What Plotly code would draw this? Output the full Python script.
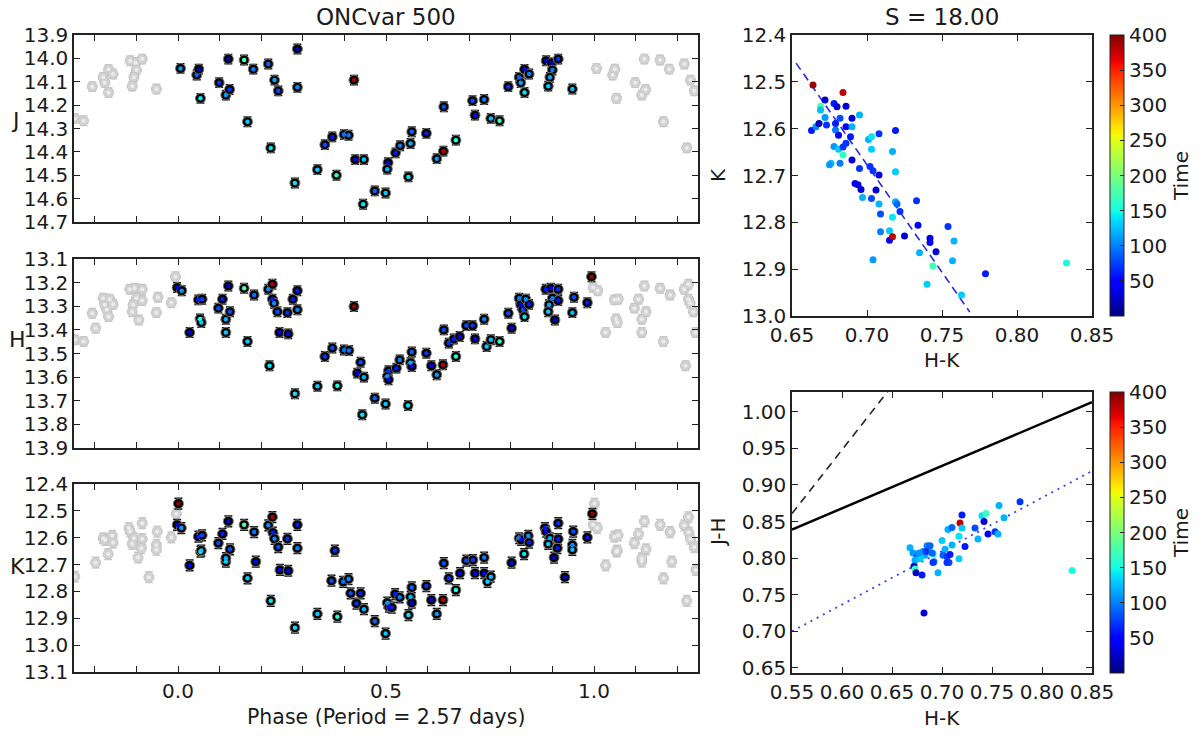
import numpy as np
import plotly.graph_objects as go

# ---------------- data ----------------
# Light curves: phase, magnitude, observation time (colour)
phase_J = [0.006, 0.045, 0.050, 0.054, 0.099, 0.115, 0.124, 0.121, 0.159, 0.181, 0.167, 0.217, 0.223, 0.232, 0.241,
           0.287, 0.287, 0.281, 0.335, 0.353, 0.371, 0.381, 0.399, 0.410, 0.423, 0.426, 0.447, 0.445, 0.473, 0.499,
           0.505, 0.503, 0.523, 0.534, 0.554, 0.559, 0.562, 0.597, 0.622, 0.638, 0.668, 0.639, 0.708, 0.714, 0.736,
           0.752, 0.773, 0.794, 0.820, 0.824, 0.833, 0.844, 0.833, 0.885, 0.898, 0.900, 0.894, 0.890, 0.914, 0.948]
mag_J = [14.043, 14.071, 14.046, 14.171, 14.104, 14.157, 14.133, 14.003, 14.007, 14.046, 14.271, 14.024, 14.383, 14.093, 14.139,
         13.960, 14.124, 14.533, 14.476, 14.369, 14.336, 14.500, 14.326, 14.329, 14.093, 14.433, 14.433, 14.624, 14.567, 14.576,
         14.446, 14.474, 14.404, 14.374, 14.507, 14.364, 14.314, 14.321, 14.429, 14.397, 14.350, 14.207, 14.181, 14.243, 14.176,
         14.257, 14.267, 14.121, 14.081, 14.104, 14.047, 14.067, 14.146, 14.010, 14.019, 14.050, 14.081, 14.119, 14.003, 14.131]
time_J = [110, 90, 25, 140, 70, 110, 70, 25, 175, 100, 130, 90, 140, 115, 80,
          25, 105, 140, 130, 80, 60, 160, 95, 95, 385, 30, 130, 140, 90, 130,
          30, 120, 60, 100, 140, 120, 90, 60, 110, 380, 155, 80, 80, 40, 100,
          125, 165, 70, 90, 115, 40, 100, 140, 30, 20, 100, 115, 130, 70, 125]

phase_H = [-0.002, 0.009, 0.028, 0.049, 0.058, 0.053, 0.056, 0.097, 0.107, 0.115, 0.115, 0.125, 0.121, 0.159, 0.183,
           0.167, 0.217, 0.227, 0.227, 0.231, 0.239, 0.220, 0.244, 0.263, 0.265, 0.276, 0.287, 0.287, 0.281, 0.335,
           0.353, 0.371, 0.383, 0.399, 0.411, 0.423, 0.431, 0.439, 0.447, 0.443, 0.473, 0.499, 0.506, 0.503, 0.506,
           0.525, 0.533, 0.553, 0.559, 0.562, 0.562, 0.597, 0.609, 0.622, 0.637, 0.668, 0.639, 0.651, 0.663, 0.677,
           0.693, 0.708, 0.714, 0.736, 0.742, 0.752, 0.773, 0.794, 0.802, 0.820, 0.824, 0.829, 0.833, 0.836, 0.844,
           0.884, 0.896, 0.900, 0.892, 0.890, 0.906, 0.914, 0.914, 0.948, 0.952, 0.984, 0.994]
mag_H = [13.221, 13.234, 13.411, 13.273, 13.270, 13.354, 13.369, 13.308, 13.270, 13.355, 13.411, 13.323, 13.214, 13.224, 13.252,
         13.449, 13.228, 13.207, 13.270, 13.287, 13.323, 13.552, 13.411, 13.327, 13.417, 13.270, 13.234, 13.315, 13.670, 13.639,
         13.513, 13.477, 13.637, 13.485, 13.487, 13.301, 13.583, 13.537, 13.600, 13.759, 13.689, 13.714, 13.573, 13.597, 13.611,
         13.562, 13.527, 13.720, 13.539, 13.494, 13.555, 13.499, 13.552, 13.590, 13.548, 13.513, 13.400, 13.456, 13.439, 13.428,
         13.382, 13.382, 13.438, 13.355, 13.470, 13.442, 13.449, 13.330, 13.393, 13.266, 13.294, 13.315, 13.344, 13.270, 13.292,
         13.228, 13.224, 13.266, 13.294, 13.323, 13.358, 13.228, 13.276, 13.327, 13.262, 13.285, 13.175]
time_H = [30, 110, 50, 60, 75, 150, 130, 80, 60, 120, 130, 80, 30, 175, 95,
          130, 105, 385, 60, 105, 80, 140, 50, 70, 50, 60, 60, 100, 140, 130,
          70, 80, 155, 95, 95, 390, 40, 80, 120, 140, 90, 130, 70, 110, 40,
          60, 100, 140, 120, 90, 40, 70, 40, 110, 380, 155, 80, 70, 60, 40,
          80, 70, 40, 100, 130, 125, 165, 80, 40, 100, 40, 80, 140, 110, 60,
          60, 40, 100, 115, 130, 30, 70, 60, 125, 80, 60, 390]

phase_K = [0.001, -0.002, 0.008, 0.028, 0.049, 0.058, 0.054, 0.056, 0.097, 0.107, 0.115, 0.115, 0.125, 0.121, 0.159,
           0.183, 0.167, 0.187, 0.217, 0.227, 0.228, 0.232, 0.241, 0.223, 0.245, 0.263, 0.265, 0.287, 0.287, 0.281,
           0.335, 0.377, 0.369, 0.383, 0.397, 0.410, 0.415, 0.429, 0.439, 0.447, 0.473, 0.499, 0.503, 0.507, 0.514,
           0.522, 0.533, 0.554, 0.559, 0.562, 0.562, 0.597, 0.609, 0.622, 0.637, 0.668, 0.639, 0.651, 0.678, 0.693,
           0.709, 0.714, 0.736, 0.736, 0.744, 0.752, 0.802, 0.820, 0.825, 0.832, 0.842, 0.844, 0.882, 0.885, 0.894,
           0.890, 0.914, 0.914, 0.912, 0.904, 0.930, 0.950, 0.948, 0.948, 0.984, 0.996]
mag_K = [12.473, 12.552, 12.564, 12.703, 12.596, 12.591, 12.652, 12.648, 12.620, 12.586, 12.689, 12.676, 12.643, 12.539, 12.552,
         12.579, 12.751, 12.689, 12.554, 12.523, 12.581, 12.604, 12.635, 12.835, 12.720, 12.604, 12.723, 12.552, 12.639, 12.935,
         12.884, 12.648, 12.760, 12.894, 12.764, 12.754, 12.807, 12.845, 12.807, 12.866, 12.911, 12.957, 12.842, 12.857, 12.860,
         12.810, 12.822, 12.888, 12.820, 12.785, 12.842, 12.780, 12.832, 12.884, 12.832, 12.795, 12.695, 12.751, 12.732, 12.685,
         12.683, 12.732, 12.674, 12.732, 12.764, 12.745, 12.693, 12.602, 12.608, 12.661, 12.593, 12.618, 12.564, 12.577, 12.602,
         12.623, 12.546, 12.605, 12.639, 12.674, 12.747, 12.577, 12.627, 12.645, 12.599, 12.511]
time_K = [390, 30, 110, 50, 60, 75, 150, 130, 80, 60, 130, 120, 80, 30, 175,
          95, 130, 50, 105, 385, 60, 105, 80, 140, 50, 70, 50, 60, 100, 140,
          130, 70, 80, 155, 95, 105, 80, 70, 60, 120, 90, 130, 110, 40, 60,
          60, 100, 140, 120, 90, 40, 70, 40, 110, 380, 155, 80, 70, 40, 80,
          70, 40, 100, 40, 130, 125, 40, 100, 40, 140, 110, 60, 60, 40, 115,
          130, 70, 60, 60, 30, 30, 80, 105, 125, 60, 390]

ERR_J, ERR_H, ERR_K = 0.02, 0.02, 0.02

# Colour-magnitude diagram: H-K, K, time
cmd_hk = [0.664, 0.684, 0.663, 0.666, 0.669, 0.669, 0.672, 0.672, 0.668, 0.673, 0.676, 0.675, 0.678, 0.680, 0.686,
          0.679, 0.679, 0.682, 0.681, 0.678, 0.681, 0.684, 0.682, 0.684, 0.686, 0.686, 0.689, 0.690, 0.690, 0.695,
          0.690, 0.692, 0.694, 0.696, 0.695, 0.697, 0.701, 0.703, 0.703, 0.703, 0.702, 0.704, 0.708, 0.708, 0.706,
          0.708, 0.709, 0.709, 0.704, 0.715, 0.715, 0.717, 0.717, 0.719, 0.717, 0.719, 0.719, 0.720, 0.722, 0.725,
          0.733, 0.734, 0.735, 0.740, 0.742, 0.742, 0.744, 0.746, 0.754, 0.758, 0.757, 0.763, 0.779, 0.833]
cmd_k = [12.507, 12.523, 12.604, 12.596, 12.552, 12.560, 12.539, 12.576, 12.589, 12.592, 12.674, 12.677, 12.546, 12.553, 12.552,
         12.603, 12.589, 12.578, 12.614, 12.638, 12.644, 12.656, 12.674, 12.639, 12.631, 12.596, 12.617, 12.578, 12.596, 12.571,
         12.667, 12.717, 12.720, 12.730, 12.685, 12.747, 12.623, 12.617, 12.644, 12.749, 12.681, 12.690, 12.611, 12.699, 12.731,
         12.761, 12.782, 12.820, 12.880, 12.818, 12.838, 12.831, 12.789, 12.604, 12.649, 12.692, 12.756, 12.761, 12.777, 12.829,
         12.754, 12.806, 12.865, 12.932, 12.834, 12.843, 12.893, 12.863, 12.809, 12.840, 12.882, 12.955, 12.910, 12.887]
cmd_t = [390, 380, 60, 105, 175, 125, 30, 110, 20, 70, 125, 110, 60, 30, 30,
         100, 60, 80, 40, 110, 130, 165, 100, 70, 70, 40, 60, 30, 120, 120,
         30, 45, 30, 30, 70, 120, 120, 140, 130, 80, 70, 70, 70, 30, 30,
         120, 80, 100, 110, 130, 50, 380, 140, 60, 120, 130, 120, 90, 70, 30,
         70, 40, 120, 130, 30, 50, 170, 30, 70, 120, 120, 130, 60, 150]

# Colour-colour diagram: H-K, J-H, time
ccd_hk = [0.668, 0.671, 0.675, 0.673, 0.672, 0.673, 0.674, 0.680, 0.685, 0.688, 0.681, 0.683, 0.678, 0.691, 0.692,
          0.696, 0.700, 0.703, 0.701, 0.705, 0.708, 0.707, 0.705, 0.717, 0.710, 0.706, 0.710, 0.718, 0.720, 0.717,
          0.720, 0.723, 0.733, 0.736, 0.740, 0.744, 0.742, 0.746, 0.753, 0.756, 0.757, 0.762, 0.778, 0.830, 0.682,
          0.677, 0.687, 0.684, 0.690, 0.691]
ccd_jh = [0.814, 0.807, 0.802, 0.797, 0.789, 0.785, 0.780, 0.777, 0.817, 0.817, 0.809, 0.804, 0.799, 0.806, 0.795,
          0.780, 0.824, 0.812, 0.804, 0.802, 0.805, 0.794, 0.794, 0.799, 0.818, 0.839, 0.842, 0.848, 0.859, 0.830,
          0.841, 0.816, 0.841, 0.826, 0.858, 0.861, 0.850, 0.833, 0.836, 0.833, 0.872, 0.855, 0.877, 0.783, 0.725,
          0.807, 0.816, 0.809, 0.807, 0.794]
ccd_t = [120, 110, 90, 120, 25, 165, 20, 60, 105, 90, 110, 120, 130, 140, 100,
         120, 130, 120, 90, 70, 60, 80, 70, 130, 120, 120, 90, 380, 60, 140,
         130, 60, 80, 120, 140, 170, 30, 40, 70, 120, 120, 120, 70, 150, 30,
         110, 90, 70, 90, 70]

# Fitted / reference lines (slope, intercept form)
CMD_FIT_SLOPE, CMD_FIT_X0, CMD_FIT_Y0 = 4.59, 0.6527, 12.46
CMD_FIT_XRANGE = [0.6527, 0.7685]
CTTS_SLOPE, CTTS_INTERCEPT = 0.58, 0.52
RED_SLOPE, RED_X0, RED_Y0 = 1.74, 0.55, 0.861
CCD_FIT_SLOPE, CCD_FIT_X0, CCD_FIT_Y0 = 0.73, 0.55, 0.70

PERIOD = 2.57
OBJ_NAME = "ONCvar 500"
S_VALUE = 18.00

# ---------------- helpers ----------------
W, H = 1203, 736
FONT = "DejaVu Sans"
TXT = "#1a1a1a"
TICK_SIZE = 20


def fx(x):
    return x / W


def fy(y):
    return 1 - y / H


jet = [[0.0, 'rgb(0,0,128)'], [0.11, 'rgb(0,0,255)'], [0.125, 'rgb(0,0,255)'], [0.34, 'rgb(0,219,255)'],
       [0.35, 'rgb(0,229,247)'], [0.375, 'rgb(20,255,226)'], [0.64, 'rgb(238,255,8)'], [0.65, 'rgb(247,245,0)'],
       [0.66, 'rgb(255,236,0)'], [0.89, 'rgb(255,18,0)'], [0.91, 'rgb(232,0,0)'], [1.0, 'rgb(128,0,0)']]

fig = go.Figure()


def light_curve(ph, mag, t, err, xa, ya):
    ph = np.asarray(ph, float)
    mag = np.asarray(mag, float)
    lo = ph < 0.25
    hi = ph > 0.75
    gp = np.concatenate([ph[lo] + 1, ph[hi] - 1])
    gm = np.concatenate([mag[lo], mag[hi]])
    fig.add_trace(go.Scatter(x=gp, y=gm, mode='markers', xaxis=xa, yaxis=ya, showlegend=False, hoverinfo='skip',
                             marker=dict(size=10, color='#d2d2d2', line=dict(color='#c4c4c4', width=1)),
                             error_y=dict(type='constant', value=err, color='#cdcdcd', thickness=1.5, width=4)))
    fig.add_trace(go.Scatter(x=gp, y=gm, mode='markers', xaxis=xa, yaxis=ya, showlegend=False, hoverinfo='skip',
                             marker=dict(size=4, color='#ececec')))
    fig.add_trace(go.Scatter(x=ph, y=mag, mode='markers', xaxis=xa, yaxis=ya, showlegend=False, hoverinfo='skip',
                             marker=dict(size=10, color='black', line=dict(color='#7a7a7a', width=1)),
                             error_y=dict(type='constant', value=err, color='#111111', thickness=1.5, width=4)))
    fig.add_trace(go.Scatter(x=ph, y=mag, mode='markers', xaxis=xa, yaxis=ya, showlegend=False,
                             marker=dict(size=4.5, color=t, coloraxis='coloraxis')))


light_curve(phase_J, mag_J, time_J, ERR_J, 'x', 'y')
light_curve(phase_H, mag_H, time_H, ERR_H, 'x2', 'y2')
light_curve(phase_K, mag_K, time_K, ERR_K, 'x3', 'y3')

# CMD
fx_fit = np.array(CMD_FIT_XRANGE)
fig.add_trace(go.Scatter(x=fx_fit, y=CMD_FIT_Y0 + CMD_FIT_SLOPE * (fx_fit - CMD_FIT_X0), mode='lines',
                         xaxis='x4', yaxis='y4', showlegend=False,
                         line=dict(color='rgb(40,40,230)', width=1.6, dash='8px,5px')))
fig.add_trace(go.Scatter(x=cmd_hk, y=cmd_k, mode='markers', xaxis='x4', yaxis='y4', showlegend=False,
                         marker=dict(size=7, color=cmd_t, coloraxis='coloraxis')))

# CCD
lx = np.array([0.55, 0.85])
fig.add_trace(go.Scatter(x=lx, y=CTTS_SLOPE * lx + CTTS_INTERCEPT, mode='lines', xaxis='x5', yaxis='y5',
                         showlegend=False, line=dict(color='black', width=2.5)))
rx = np.array([RED_X0, 0.70])
fig.add_trace(go.Scatter(x=rx, y=RED_Y0 + RED_SLOPE * (rx - RED_X0), mode='lines', xaxis='x5', yaxis='y5',
                         showlegend=False, line=dict(color='#222222', width=1.6, dash='8px,6px')))
fig.add_trace(go.Scatter(x=lx, y=CCD_FIT_Y0 + CCD_FIT_SLOPE * (lx - CCD_FIT_X0), mode='lines', xaxis='x5',
                         yaxis='y5', showlegend=False,
                         line=dict(color='rgb(60,60,255)', width=1.8, dash='2px,5px')))
fig.add_trace(go.Scatter(x=ccd_hk, y=ccd_jh, mode='markers', xaxis='x5', yaxis='y5', showlegend=False,
                         marker=dict(size=7, color=ccd_t, coloraxis='coloraxis2')))

# ---------------- layout ----------------
base = dict(showline=True, linecolor='#222222', linewidth=1.5, mirror='ticks', ticks='inside', ticklen=6,
            tickwidth=1, tickcolor='#222222', showgrid=False, zeroline=False, automargin=False,
            tickfont=dict(family=FONT, size=TICK_SIZE, color=TXT))

LX = [fx(74), fx(698)]
phase_ticks = [round(v, 1) for v in np.arange(-0.2, 1.21, 0.1)]
phase_text = [('%.1f' % v) if v in (0.0, 0.5, 1.0) else '' for v in phase_ticks]

layout = dict(width=W, height=H, margin=dict(l=0, r=0, t=0, b=0, autoexpand=False), autosize=False,
              paper_bgcolor='white', plot_bgcolor='white', font=dict(family=FONT, color=TXT))

for i, (top, bot, yr, show) in enumerate([(35, 222, [14.7, 13.9], False),
                                          (259, 448, [13.9, 13.1], False),
                                          (484, 672, [13.1, 12.4], True)]):
    n = '' if i == 0 else str(i + 1)
    layout['xaxis' + n] = dict(base, domain=LX, range=[-0.25, 1.25], tickmode='array', tickvals=phase_ticks,
                               ticktext=phase_text, showticklabels=show, anchor='y' + n)
    layout['yaxis' + n] = dict(base, domain=[fy(bot), fy(top)], range=yr, dtick=0.1, tick0=12.0,
                               tickformat='.1f', anchor='x' + n)

RX = [fx(792), fx(1092)]
layout['xaxis4'] = dict(base, domain=RX, range=[0.65, 0.85], dtick=0.05, tick0=0.65, tickformat='.2f', anchor='y4')
layout['yaxis4'] = dict(base, domain=[fy(316), fy(35)], range=[13.0, 12.4], dtick=0.1, tick0=12.4,
                        tickformat='.1f', anchor='x4')
layout['xaxis5'] = dict(base, domain=RX, range=[0.55, 0.85], dtick=0.05, tick0=0.55, tickformat='.2f', anchor='y5')
layout['yaxis5'] = dict(base, domain=[fy(673), fy(392)], range=[0.643, 1.027], dtick=0.05, tick0=0.65,
                        tickformat='.2f', anchor='x5')


def cbar(top, bot):
    return dict(x=fx(1110), xanchor='left', y=fy(top), yanchor='top', len=(bot - top) / H, lenmode='fraction',
                thickness=14, thicknessmode='pixels', xpad=0, ypad=0, outlinewidth=1, outlinecolor='#222222',
                tickmode='array', tickvals=list(range(50, 401, 50)), ticks='inside', ticklen=4,
                tickcolor='#222222', tickfont=dict(family=FONT, size=TICK_SIZE, color=TXT),
                title=dict(text='Time', side='right', font=dict(family=FONT, size=20, color=TXT)))


layout['coloraxis'] = dict(colorscale=jet, cmin=0, cmax=400, colorbar=cbar(35, 316))
layout['coloraxis2'] = dict(colorscale=jet, cmin=0, cmax=400, colorbar=cbar(392, 673))

ann = []


def text(s, x, y, size=20, angle=0, xanchor='center'):
    ann.append(dict(text=s, x=fx(x), y=fy(y), xref='paper', yref='paper', showarrow=False, textangle=angle,
                    xanchor=xanchor, yanchor='middle', font=dict(family=FONT, size=size, color=TXT)))


text(OBJ_NAME, 386, 17, size=23)
text('S = %.2f' % S_VALUE, 942, 17, size=23)
text('J', 15, 121, size=22)
text('H', 17, 339, size=22)
text('K', 17, 566, size=22)
text('Phase (Period = %.2f days)' % PERIOD, 386, 717, size=20.5)
text('K', 718, 175, angle=-90)
text('H-K', 942, 360)
text('J-H', 718, 533, angle=-90)
text('H-K', 942, 718)
layout['annotations'] = ann

fig.update_layout(**layout)
fig.write_html("out.html")
